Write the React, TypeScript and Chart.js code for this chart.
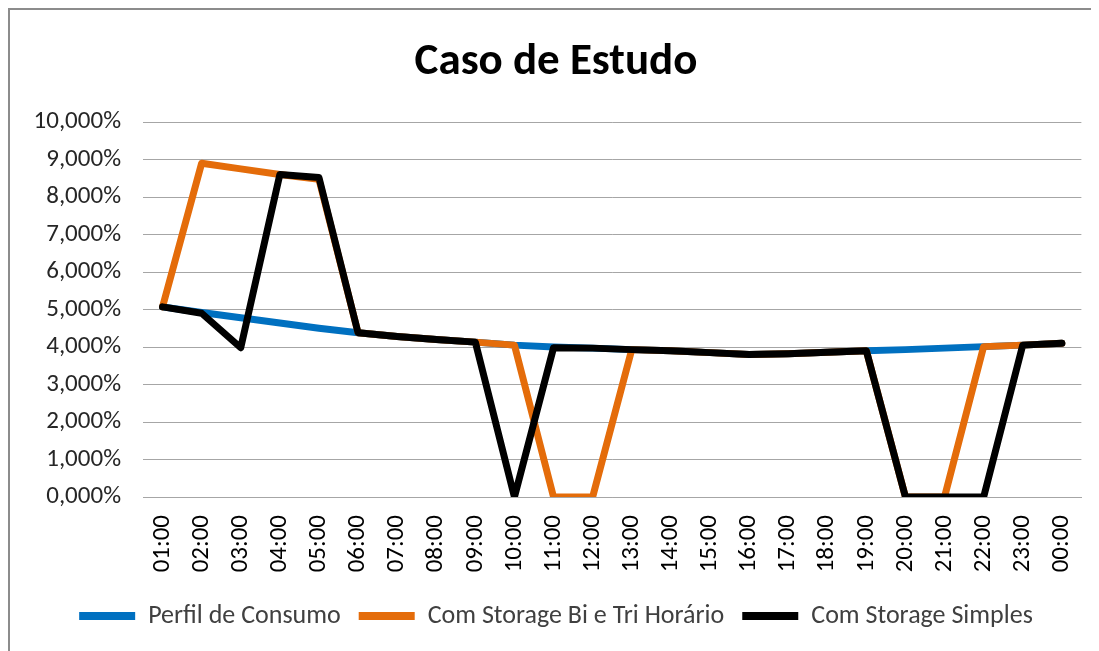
import React, { useEffect, useRef } from "react";
import { Chart, registerables } from "chart.js";

Chart.register(...registerables);

const hours = ["01:00","02:00","03:00","04:00","05:00","06:00","07:00","08:00","09:00","10:00","11:00","12:00","13:00","14:00","15:00","16:00","17:00","18:00","19:00","20:00","21:00","22:00","23:00","00:00"];
const perfilConsumo = [5.07,4.92,4.78,4.64,4.5,4.38,4.28,4.2,4.13,4.05,4.0,3.97,3.93,3.9,3.85,3.8,3.82,3.86,3.9,3.93,3.97,4.01,4.05,4.1];
const storageBiTri = [5.07,8.9,8.75,8.6,8.47,4.38,4.28,4.2,4.13,4.05,0,0,3.93,3.9,3.85,3.8,3.82,3.86,3.9,0,0,4.01,4.05,4.1];
const storageSimples = [5.07,4.9,3.98,8.6,8.52,4.38,4.28,4.2,4.13,0,3.98,3.97,3.93,3.9,3.85,3.8,3.82,3.86,3.9,0,0,0,4.05,4.1];
const seriesNames = ["Perfil de Consumo","Com Storage Bi e Tri Horário","Com Storage Simples"];
const seriesColors = ["#0070C0","#E46C0A","#000000"];

const FONT = "Calibri, Carlito, 'Liberation Sans Narrow', 'Open Sans', sans-serif";

export default function App() {
  const ref = useRef<HTMLCanvasElement>(null);
  useEffect(() => {
    document.body.style.overflow = "hidden";
    if (!ref.current) return;
    const values = [perfilConsumo, storageBiTri, storageSimples];
    const chart = new Chart(ref.current, {
      type: "line",
      data: {
        labels: hours,
        datasets: values.map((v, i) => ({
          label: seriesNames[i],
          data: v,
          borderColor: seriesColors[i],
          backgroundColor: seriesColors[i],
          borderWidth: 7,
          pointRadius: 0,
          tension: 0,
          borderJoinStyle: "round" as const,
          borderCapStyle: "round" as const,
          order: 3 - i,
        })),
      },
      options: {
        responsive: false,
        animation: false,
        layout: { padding: { left: 0, right: 8, top: 0, bottom: 12 } },
        plugins: {
          title: {
            display: true,
            text: "Caso de Estudo",
            color: "#000",
            font: { family: FONT, size: 45, weight: "bold" },
            padding: { top: 26, bottom: 32 },
          },
          legend: {
            position: "bottom",
            labels: {
              color: "#404040",
              font: { family: FONT, size: 26 },
              boxWidth: 56,
              boxHeight: 8,
              padding: 18,
              generateLabels: () =>
                seriesNames.map((n, i) => ({
                  text: n,
                  fillStyle: seriesColors[i],
                  strokeStyle: seriesColors[i],
                  lineWidth: 0,
                  datasetIndex: i,
                  hidden: false,
                  fontColor: "#404040",
                })),
            },
          },
          tooltip: { enabled: false },
        },
        scales: {
          x: {
            offset: true,
            grid: { display: false, drawTicks: false },
            border: { display: true, color: "#A6A6A6", width: 1 },
            ticks: {
              color: "#000",
              font: { family: FONT, size: 25 },
              minRotation: 90,
              maxRotation: 90,
              padding: 18,
              autoSkip: false,
            },
            afterFit: (s: any) => { s.height = 88; },
          },
          y: {
            min: 0,
            max: 10,
            grid: { color: "#A6A6A6", lineWidth: 1, drawTicks: false },
            border: { display: false },
            ticks: {
              stepSize: 1,
              color: "#262626",
              font: { family: FONT, size: 25 },
              padding: 22,
              callback: (v: any) => Number(v).toFixed(3).replace(".", ",") + "%",
            },
            afterFit: (s: any) => { s.width = 133; },
          },
        },
      },
    });
    return () => chart.destroy();
  }, []);
  return (
    <div style={{ width: 1091, height: 643, overflow: "hidden", borderLeft: "2px solid #8C8C8C", borderTop: "2px solid #8C8C8C", boxSizing: "border-box", background: "#fff" }}>
      <canvas ref={ref} width={1100} height={641} style={{ display: "block" }} />
    </div>
  );
}
